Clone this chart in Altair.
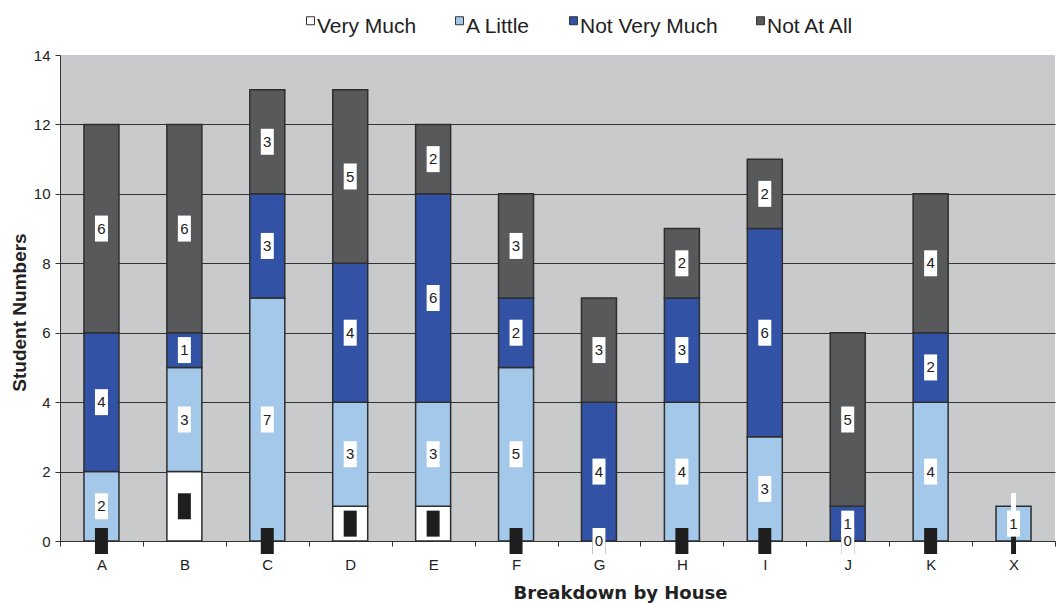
import altair as alt
import pandas as pd

houses = ["A", "B", "C", "D", "E", "F", "G", "H", "I", "J", "K", "X"]
categories = ["Very Much", "A Little", "Not Very Much", "Not At All"]
very_much = [0, 2, 0, 1, 1, 0, 0, 0, 0, 0, 0, 0]
a_little = [2, 3, 7, 3, 3, 5, 0, 4, 3, 0, 4, 1]
not_very_much = [4, 1, 3, 4, 6, 2, 4, 3, 6, 1, 2, 0]
not_at_all = [6, 6, 3, 5, 2, 3, 3, 2, 2, 5, 4, 0]
colors = ["#FFFFFF", "#A3C8EA", "#3253A5", "#58595B"]
y_ticks = [0, 2, 4, 6, 8, 10, 12, 14]

rows = []
for ci, (cat, vals) in enumerate(zip(categories, [very_much, a_little, not_very_much, not_at_all])):
    for h, v in zip(houses, vals):
        rows.append({"house": h, "category": cat, "order": ci, "value": v})
df = pd.DataFrame(rows)

FONT = "Liberation Sans"
TITLE_FONT = "DejaVu Sans"

x_enc = alt.X(
    "house:N",
    sort=houses,
    scale=alt.Scale(paddingInner=0, paddingOuter=0),
    axis=alt.Axis(
        title="Breakdown by House",
        labelAngle=0,
        tickBand="extent",
        tickSize=5,
        tickColor="#333333",
        domainColor="#333333",
        labelFontSize=15,
        labelColor="#222222",
        labelPadding=11,
        titleFont=TITLE_FONT,
        titleFontSize=18,
        titleFontWeight="bold",
        titleColor="#222222",
        titlePadding=12,
        titleX=560,
        grid=False,
    ),
)

base = alt.Chart(df).transform_stack(
    stack="value",
    groupby=["house"],
    as_=["y0", "y1"],
    sort=[alt.SortField("order", order="ascending")],
).transform_calculate(mid="(datum.y0 + datum.y1) / 2")

legend_square = "M0,-2.5H2V-0.5H0Z"

bars = base.transform_filter("datum.value > 0").mark_bar(
    size=35, stroke="#2E2E2E", strokeWidth=1.5
).encode(
    x=x_enc,
    y=alt.Y(
        "y0:Q",
        scale=alt.Scale(domain=[0, 14], nice=False),
        axis=alt.Axis(
            values=y_ticks,
            title="Student Numbers",
            titleFont=FONT,
            titleFontSize=19,
            titleFontWeight="bold",
            titleColor="#222222",
            titlePadding=4,
            titleY=257,
            labelFontSize=15,
            labelColor="#222222",
            labelPadding=5,
            tickSize=5,
            tickColor="#333333",
            domainColor="#333333",
            grid=True,
            gridColor="#333333",
            gridWidth=1,
            gridOpacity={"condition": {"test": "datum.value == 14", "value": 0}, "value": 1},
        ),
    ),
    y2="y1:Q",
    color=alt.Color(
        "category:N",
        scale=alt.Scale(domain=categories, range=colors),
        legend=alt.Legend(
            orient="none",
            legendX=236,
            legendY=-39,
            direction="horizontal",
            title=None,
            symbolType=legend_square,
            symbolSize=64,
            symbolStrokeColor="#333333",
            symbolStrokeWidth=1,
            labelFontSize=21,
            labelFont=FONT,
            labelColor="#222222",
            labelOffset=0,
            labelBaseline="middle",
            columnPadding=28,
            padding=0,
        ),
    ),
)

wide = "M-0.5,-1H0.5V1H-0.5Z"
narrow = "M-0.19,-1H0.19V1H-0.19Z"

boxes = base.mark_point(filled=True, size=676, opacity=1, strokeWidth=0).encode(
    x=alt.X("house:N", sort=houses),
    y=alt.Y("mid:Q"),
    shape=alt.condition("datum.house == 'X' && datum.value == 0", alt.value(narrow), alt.value(wide)),
    fill=alt.condition("datum.category == 'Very Much'", alt.value("#1E1E1E"), alt.value("#FFFFFF")),
)

labels = base.transform_filter(
    "datum.category != 'Very Much' && !(datum.house == 'X' && datum.value == 0)"
).mark_text(fontSize=15, font=FONT, color="#222222", baseline="middle").encode(
    x=alt.X("house:N", sort=houses),
    y=alt.Y("mid:Q"),
    text=alt.Text("value:Q"),
)

chart = alt.layer(bars, boxes, labels).properties(
    width=995,
    height=486,
    autosize=alt.AutoSizeParams(type="none"),
    padding={"left": 52, "top": 47, "right": 1, "bottom": 62},
).configure(font=FONT).configure_view(fill="#C9CACC", strokeWidth=0)

chart.save("out.html", embed_options={"renderer": "svg", "actions": False})
